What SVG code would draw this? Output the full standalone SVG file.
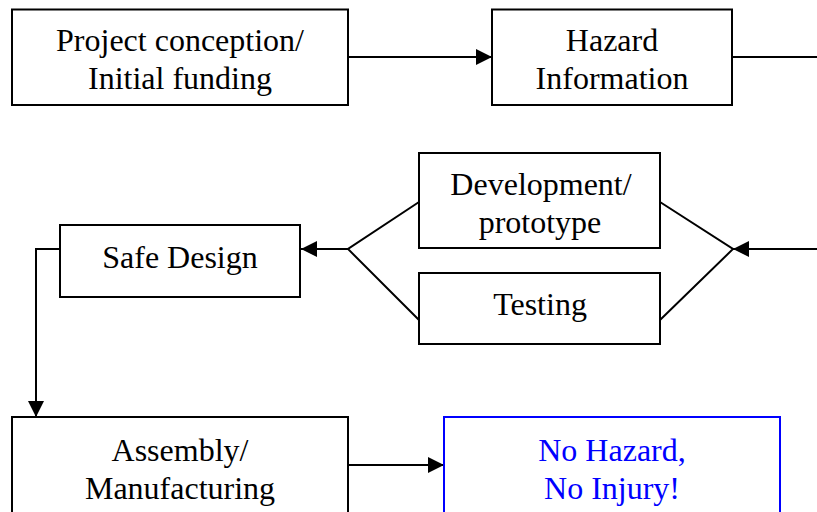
<svg xmlns="http://www.w3.org/2000/svg" width="817" height="512" viewBox="0 0 817 512">
  <defs>
    <marker id="arrow" viewBox="0 0 16 16" refX="16" refY="8" markerWidth="16" markerHeight="16" markerUnits="userSpaceOnUse" orient="auto">
      <path d="M0,0 L16,8 L0,16 Z" fill="#000"/>
    </marker>
    <style>
      .box { fill: #fff; stroke: #000; stroke-width: 2; }
      .box.blue { stroke: #0000ff; }
      .lbl { font-family: "Liberation Serif", "Times New Roman", serif; font-size: 32px; fill: #000; text-anchor: middle; }
      .lbl.blue { fill: #0000ff; }
      .conn { fill: none; stroke: #000; stroke-width: 2; }
    </style>
  </defs>
  <rect width="817" height="512" fill="#fff"/>

  <g id="connectors">
    <line class="conn" x1="348" y1="57" x2="492" y2="57" marker-end="url(#arrow)"/>
    <line class="conn" x1="732" y1="57" x2="817" y2="57"/>
    <line class="conn" x1="817" y1="249" x2="733" y2="249" marker-end="url(#arrow)"/>
    <polyline class="conn" points="660,202 733,249 660,320"/>
    <polyline class="conn" points="419,202 348,249 419,320"/>
    <line class="conn" x1="348" y1="249" x2="301" y2="249" marker-end="url(#arrow)"/>
    <polyline class="conn" points="60,249 36,249 36,417" marker-end="url(#arrow)"/>
    <line class="conn" x1="348" y1="465" x2="444" y2="465" marker-end="url(#arrow)"/>
  </g>

  <g id="project-conception">
    <rect class="box" x="12" y="9.5" width="336" height="95.5"/>
    <text class="lbl" x="180" y="51">Project conception/</text>
    <text class="lbl" x="180" y="89">Initial funding</text>
  </g>

  <g id="hazard-information">
    <rect class="box" x="492" y="9.5" width="240" height="95.5"/>
    <text class="lbl" x="612" y="51">Hazard</text>
    <text class="lbl" x="612" y="89">Information</text>
  </g>

  <g id="development">
    <rect class="box" x="419" y="153" width="241" height="95"/>
    <text class="lbl" x="541" y="195">Development/</text>
    <text class="lbl" x="540" y="233">prototype</text>
  </g>

  <g id="testing">
    <rect class="box" x="419" y="273" width="241" height="71"/>
    <text class="lbl" x="540" y="315">Testing</text>
  </g>

  <g id="safe-design">
    <rect class="box" x="60" y="225" width="240" height="72"/>
    <text class="lbl" x="180" y="268">Safe Design</text>
  </g>

  <g id="assembly">
    <rect class="box" x="12" y="417" width="336" height="100"/>
    <text class="lbl" x="180" y="461">Assembly/</text>
    <text class="lbl" x="180" y="499">Manufacturing</text>
  </g>

  <g id="no-hazard">
    <rect class="box blue" x="444" y="417" width="336" height="100"/>
    <text class="lbl blue" x="612" y="461">No Hazard,</text>
    <text class="lbl blue" x="612" y="499">No Injury!</text>
  </g>
</svg>
